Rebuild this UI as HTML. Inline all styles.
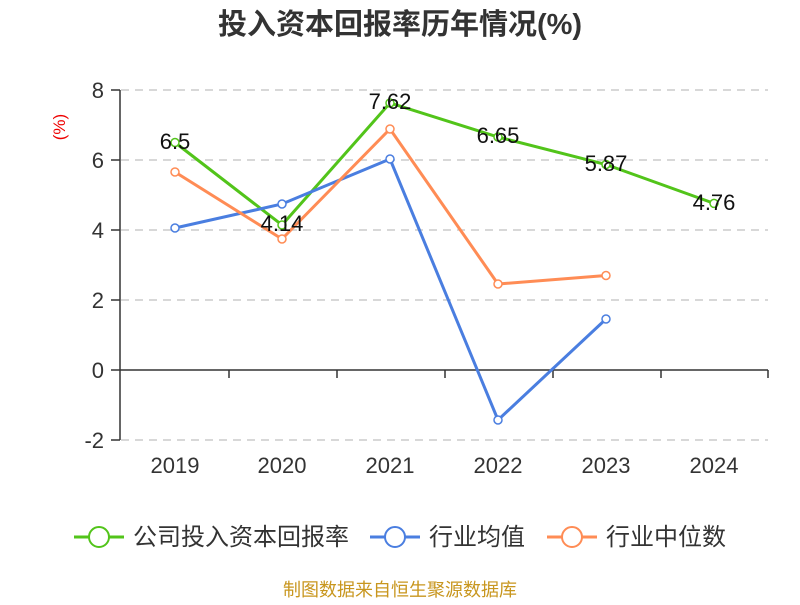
<!DOCTYPE html>
<html><head><meta charset="utf-8"><style>
body{margin:0;background:#fff;}
svg text{font-family:"Liberation Sans","Noto Sans CJK SC",sans-serif;}
</style></head><body>
<svg width="800" height="600" xmlns="http://www.w3.org/2000/svg">
<text x="400" y="34" text-anchor="middle" font-size="29" font-weight="bold" fill="#333">投入资本回报率历年情况(%)</text>
<text x="65" y="127" font-size="17" fill="#e00" text-anchor="middle" transform="rotate(-90 65 127)">(%)</text>
<g stroke="#ccc" stroke-dasharray="8,6" stroke-width="1.5">
<line x1="121" y1="90" x2="768" y2="90"/><line x1="121" y1="160" x2="768" y2="160"/>
<line x1="121" y1="230" x2="768" y2="230"/><line x1="121" y1="300" x2="768" y2="300"/>
<line x1="121" y1="440" x2="768" y2="440"/>
</g>
<g stroke="#333" stroke-width="1.5">
<line x1="120" y1="90" x2="120" y2="440"/>
<line x1="111" y1="90" x2="120" y2="90"/><line x1="111" y1="160" x2="120" y2="160"/>
<line x1="111" y1="230" x2="120" y2="230"/><line x1="111" y1="300" x2="120" y2="300"/>
<line x1="111" y1="370" x2="120" y2="370"/><line x1="111" y1="440" x2="120" y2="440"/>
<line x1="120" y1="370" x2="768" y2="370"/>
<line x1="229" y1="370" x2="229" y2="378"/><line x1="337" y1="370" x2="337" y2="378"/>
<line x1="445" y1="370" x2="445" y2="378"/><line x1="553" y1="370" x2="553" y2="378"/>
<line x1="661" y1="370" x2="661" y2="378"/><line x1="768" y1="370" x2="768" y2="378"/>
</g>
<g font-size="22" fill="#333" text-anchor="end">
<text x="104" y="98">8</text><text x="104" y="168">6</text><text x="104" y="238">4</text>
<text x="104" y="308">2</text><text x="104" y="378">0</text><text x="104" y="448">-2</text>
</g>
<g font-size="22" fill="#333" text-anchor="middle">
<text x="175" y="473">2019</text><text x="282" y="473">2020</text><text x="390" y="473">2021</text>
<text x="498" y="473">2022</text><text x="606" y="473">2023</text><text x="714" y="473">2024</text>
</g>
<g fill="none" stroke-width="3">
<polyline stroke="#52c41a" points="175,142.5 282,225 390,103 498,137 606,164.5 714,203.4"/>
<polyline stroke="#4a7ee0" points="175,228 282,204 390,159 498,420 606,319"/>
<polyline stroke="#ff8c55" points="175,172 282,239 390,129 498,284 606,275.5"/>
</g>
<g fill="#fff" stroke-width="1.5">
<g stroke="#52c41a"><circle cx="175" cy="142.5" r="4"/><circle cx="282" cy="225" r="4"/><circle cx="390" cy="103" r="4"/><circle cx="498" cy="137" r="4"/><circle cx="606" cy="164.5" r="4"/><circle cx="714" cy="203.4" r="4"/></g>
<g stroke="#4a7ee0"><circle cx="175" cy="228" r="4"/><circle cx="282" cy="204" r="4"/><circle cx="390" cy="159" r="4"/><circle cx="498" cy="420" r="4"/><circle cx="606" cy="319" r="4"/></g>
<g stroke="#ff8c55"><circle cx="175" cy="172" r="4"/><circle cx="282" cy="239" r="4"/><circle cx="390" cy="129" r="4"/><circle cx="498" cy="284" r="4"/><circle cx="606" cy="275.5" r="4"/></g>
</g>
<g font-size="22" fill="#111" text-anchor="middle">
<text x="175" y="149">6.5</text><text x="282" y="231">4.14</text><text x="390" y="109">7.62</text>
<text x="498" y="143">6.65</text><text x="606" y="171">5.87</text><text x="714" y="210">4.76</text>
</g>
<g stroke-width="3" fill="#fff">
<line x1="74" y1="537" x2="124" y2="537" stroke="#52c41a"/><circle cx="99" cy="537" r="10" stroke="#52c41a" stroke-width="2"/>
<line x1="370" y1="537" x2="420" y2="537" stroke="#4a7ee0"/><circle cx="395" cy="537" r="10" stroke="#4a7ee0" stroke-width="2"/>
<line x1="547" y1="537" x2="597" y2="537" stroke="#ff8c55"/><circle cx="572" cy="537" r="10" stroke="#ff8c55" stroke-width="2"/>
</g>
<g font-size="24" fill="#333">
<text x="133" y="545">公司投入资本回报率</text><text x="429" y="545">行业均值</text><text x="606" y="545">行业中位数</text>
</g>
<text x="400" y="596" text-anchor="middle" font-size="18" fill="#c8961e">制图数据来自恒生聚源数据库</text>
</svg>
</body></html>
